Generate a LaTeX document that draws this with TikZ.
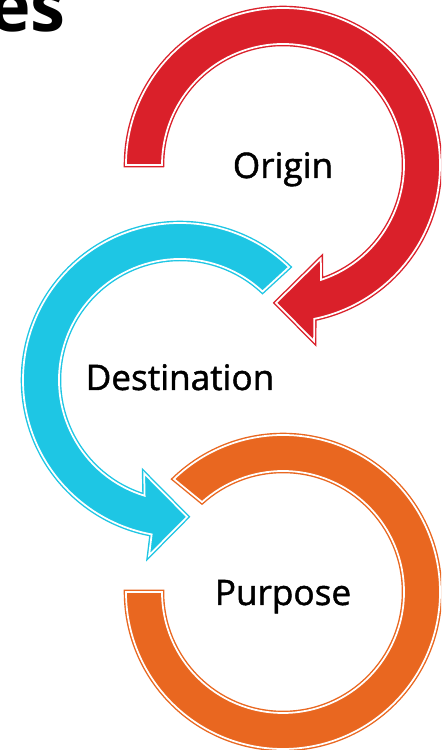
\documentclass[tikz,border=0pt]{standalone}
\usepackage{fontspec}
\setmainfont{Open Sans}
\newfontfamily\labelfont{Open Sans}[FakeBold=1.3]
\definecolor{ringred}{RGB}{218,32,42}
\definecolor{ringcyan}{RGB}{30,198,228}
\definecolor{ringorange}{RGB}{233,103,32}

\begin{document}
\begin{tikzpicture}
  [x=.02cm,y=.02cm,
   ring/.style={fill=#1,draw=#1,line width=2.6pt,miter limit=20,
     postaction={draw=white,line width=1pt,miter limit=20}},
   every node/.style={font=\labelfont\fontsize{20}{24}\selectfont,inner sep=0}]
  \useasboundingbox (0,0) rectangle (441,750);
  \clip (0,0) rectangle (441,750);

  % origin, red arrow
  \begin{scope}[shift={(283,585)}]
    \path[ring=ringred] (180:157) arc[start angle=180,end angle=-78.5,radius=157]
      -- (-80:179) -- (-92.9:138) -- (-68:101) -- (-71.7:121)
      arc[start angle=-71.7,end angle=180,radius=121] -- cycle;
  \end{scope}

  % destination, cyan arrow
  \begin{scope}[shift={(180,370)}]
    \path[ring=ringcyan] (46:157) arc[start angle=46,end angle=259.6,radius=157]
      -- (260:178) -- (-87:137) -- (249:100) -- (253:121)
      arc[start angle=253,end angle=47,radius=121] -- cycle;
  \end{scope}

  % purpose, orange ring
  \begin{scope}[shift={(283,158)}]
    \path[ring=ringorange] (134:157) arc[start angle=134,end angle=-180,radius=157]
      -- (180:121) arc[start angle=-180,end angle=132,radius=121] -- cycle;
  \end{scope}

  \node[font=\rmfamily\fontsize{40}{48}\selectfont\bfseries,anchor=base east] (title) at (66,718) {es};
  \node[anchor=base] (origin) at (283,572) {Origin};
  \node[anchor=base] (destination) at (180,360) {Destination};
  \node[anchor=base] (purpose) at (283,145) {Purpose};
\end{tikzpicture}
\end{document}
